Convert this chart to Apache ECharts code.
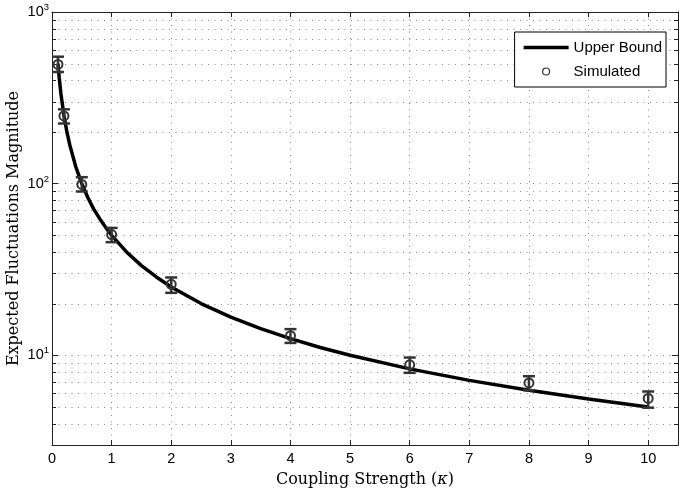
<!DOCTYPE html>
<html><head><meta charset="utf-8">
<script src="https://cdn.jsdelivr.net/npm/echarts@6/dist/echarts.min.js"></script>
<style>html,body{margin:0;padding:0;background:#fff}#c{width:682px;height:491px}</style>
</head><body><div id="c"></div>
<script>
// Upper bound curve
const boundKappa = [0.1,0.12,0.15,0.2,0.25,0.3,0.4,0.5,0.6,0.7,0.8,0.9,1,1.25,1.5,1.75,2,2.5,3,3.5,4,4.5,5,6,7,8,9,10];
const boundValue = [500,417,333,250,200,167,125,100,83,71,62.5,55.6,50,40,33.3,28.6,25,20,16.7,14.3,12.5,11.1,10,8.33,7.14,6.25,5.56,5];
// Simulated points with error bars
const simKappa = [0.1,0.2,0.5,1,2,4,6,8,10];
const simValue = [495,248,99,50.5,25.9,13.0,8.8,6.9,5.6];
const simLow   = [447,224,90,45.6,23.1,11.8,7.9,6.25,4.95];
const simHigh  = [549,271,109,55.2,28.4,14.2,9.7,7.55,6.15];
// Log-axis minor grid values
const minorGridValues = [4,5,6,7,8,9,20,30,40,50,60,70,80,90,200,300,400,500,600,700,800,900];
const xTickLabels = ['0','1','2','3','4','5','6','7','8','9','10'];

const AX = '#222';
const GRID = '#8c8c8c';
const DASH = [1,5.5];
const sansFont = 'Liberation Sans';
const serifFont = 'DejaVu Serif';

const chart = echarts.init(document.getElementById('c'));
const supRich = {s:{fontSize:9.5, fontFamily:sansFont, color:'#000', padding:[0,0,9,0]}, b:{fontSize:14.5, fontFamily:sansFont, color:'#000'}};

chart.setOption({
  animation:false,
  backgroundColor:'#fff',
  grid:{left:52, right:4, top:12, bottom:46, outerBoundsMode:'none', containLabel:false},
  legend:{
    data:[
      {name:'Upper Bound', icon:'path://M0,0 L45,0 L45,3.5 L0,3.5 Z'},
      {name:'Simulated', itemStyle:{borderWidth:1.2}}
    ],
    orient:'vertical', right:16, top:32,
    borderColor:'#000', borderWidth:1, backgroundColor:'#fff', borderRadius:0,
    padding:[8,4,8,9], itemGap:9, itemWidth:45, itemHeight:7,
    textStyle:{fontFamily:sansFont, fontSize:15, color:'#000'}, z:10
  },
  xAxis:[{
    type:'value', min:0, max:10.5, interval:1, position:'bottom',
    axisLine:{show:true, onZero:false, lineStyle:{color:AX, width:1}},
    axisTick:{show:true, inside:true, length:5, lineStyle:{color:AX}},
    axisLabel:{margin:6, fontFamily:sansFont, fontSize:14.5, color:'#000', hideOverlap:false,
      formatter:v=>Number.isInteger(v)? xTickLabels[v] : ''},
    splitLine:{show:true, lineStyle:{type:DASH, color:GRID, width:1}},
    name:'Coupling Strength ({i|κ})', nameLocation:'middle', nameGap:27, nameMoveOverlap:false,
    nameTextStyle:{fontFamily:serifFont, fontSize:16, color:'#000',
      rich:{i:{fontFamily:serifFont, fontStyle:'italic', fontSize:16, color:'#000'}}}
  },{
    type:'value', min:0, max:10.5, interval:1, position:'top',
    axisLine:{show:true, onZero:false, lineStyle:{color:AX, width:1}},
    axisTick:{show:true, inside:true, length:5, lineStyle:{color:AX}},
    axisLabel:{show:false}, splitLine:{show:false}
  }],
  yAxis:[{
    type:'log', logBase:10, min:3, max:1000, position:'left',
    axisLine:{show:true, onZero:false, lineStyle:{color:AX, width:1}},
    axisTick:{show:true, inside:true, length:6, lineStyle:{color:AX}},
    axisLabel:{margin:3, hideOverlap:false, rich:supRich,
      formatter:v=>{const e=Math.log10(v); return Math.abs(e-Math.round(e))<1e-6 ? '{b|10}{s|'+Math.round(e)+'}' : '';}},
    splitLine:{show:true, lineStyle:{type:DASH, color:GRID, width:1}},
    name:'Expected Fluctuations Magnitude', nameLocation:'middle', nameGap:30, nameMoveOverlap:false,
    nameTextStyle:{fontFamily:serifFont, fontSize:16, color:'#000'}
  },{
    type:'log', logBase:10, min:3, max:1000, position:'right',
    axisLine:{show:true, onZero:false, lineStyle:{color:AX, width:1}},
    axisTick:{show:true, inside:true, length:6, lineStyle:{color:AX}},
    axisLabel:{show:false}, splitLine:{show:false}
  }],
  series:[
    {
      type:'custom', name:'minorGrid', silent:true, z:1, clip:false,
      data:minorGridValues.map(v=>[0,v]), encode:{x:0,y:1},
      renderItem:(params, api)=>{
        const cs = params.coordSys;
        const y = Math.round(api.coord([0, api.value(1)])[1]) + 0.5;
        return {type:'group', children:[
          {type:'line', shape:{x1:cs.x, y1:y, x2:cs.x+cs.width, y2:y}, style:{stroke:GRID, lineWidth:1, lineDash:DASH}},
          {type:'line', shape:{x1:cs.x, y1:y, x2:cs.x+4, y2:y}, style:{stroke:AX, lineWidth:1}},
          {type:'line', shape:{x1:cs.x+cs.width-4, y1:y, x2:cs.x+cs.width, y2:y}, style:{stroke:AX, lineWidth:1}}
        ]};
      }
    },
    {
      type:'line', name:'Upper Bound', z:3, symbol:'none', showSymbol:false,
      data:boundKappa.map((k,i)=>[k,boundValue[i]]),
      lineStyle:{color:'#000', width:3.5}, itemStyle:{color:'#000'}
    },
    {
      type:'custom', name:'errorBars', z:4, silent:true,
      data:simKappa.map((k,i)=>[k,simLow[i],simHigh[i]]), encode:{x:0,y:[1,2]},
      renderItem:(params, api)=>{
        const x = api.value(0);
        const pLo = api.coord([x, api.value(1)]);
        const pHi = api.coord([x, api.value(2)]);
        const hw = 6;
        const st = {stroke:'#333', lineWidth:2.5};
        return {type:'group', children:[
          {type:'line', shape:{x1:pLo[0], y1:pLo[1], x2:pHi[0], y2:pHi[1]}, style:st},
          {type:'line', shape:{x1:pLo[0]-hw, y1:pLo[1], x2:pLo[0]+hw, y2:pLo[1]}, style:st},
          {type:'line', shape:{x1:pHi[0]-hw, y1:pHi[1], x2:pHi[0]+hw, y2:pHi[1]}, style:st}
        ]};
      }
    },
    {
      type:'scatter', name:'Simulated', z:5, symbol:'circle', symbolSize:9,
      data:simKappa.map((k,i)=>[k,simValue[i]]),
      itemStyle:{color:'rgba(0,0,0,0)', borderColor:'#333', borderWidth:2, opacity:1}
    }
  ]
});
</script></body></html>
